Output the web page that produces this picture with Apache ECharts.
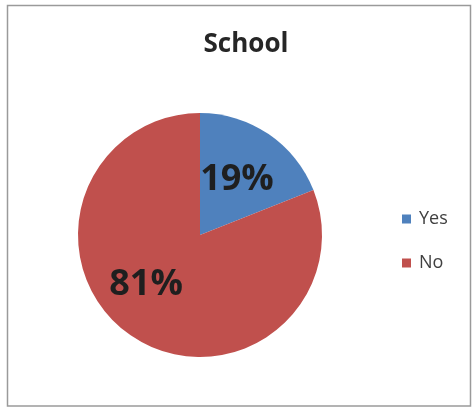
<!DOCTYPE html>
<html>
<head>
<meta charset="utf-8">
<script src="https://cdn.jsdelivr.net/npm/echarts@6/dist/echarts.min.js"></script>
<style>
  html, body { margin: 0; padding: 0; background: #ffffff; }
  #chart { width: 475px; height: 408px; }
</style>
</head>
<body>
<div id="chart"></div>
<script>
// Share of respondents answering Yes / No for "School"
const categories = ['Yes', 'No'];
const shares = [19, 81];
const sliceColors = ['#4F81BD', '#C0504D'];

const chart = echarts.init(document.getElementById('chart'), null, { renderer: 'canvas' });

const pieData = categories.map((name, i) => ({
  name: name,
  value: shares[i],
  itemStyle: { color: sliceColors[i] },
  label: i === 1 ? { offset: [-18, -3] } : { offset: [1, -2] }
}));

chart.setOption({
  backgroundColor: '#ffffff',
  animation: false,
  graphic: [{
    type: 'rect',
    shape: { x: 7.5, y: 5.5, width: 463, height: 400.5 },
    style: { fill: 'none', stroke: '#9a9a9a', lineWidth: 1.5 },
    silent: true
  }],
  title: {
    text: 'School',
    left: 241,
    top: 27,
    textAlign: 'center',
    textStyle: {
      fontFamily: 'Open Sans',
      fontWeight: 'bold',
      fontSize: 26,
      color: '#262626'
    }
  },
  legend: {
    orient: 'vertical',
    left: 397,
    top: 205,
    itemWidth: 9,
    itemHeight: 9,
    itemGap: 26,
    icon: 'rect',
    data: categories,
    textStyle: {
      fontFamily: 'Open Sans',
      fontSize: 18,
      color: '#404040',
      padding: [0, 0, 0, 3]
    }
  },
  series: [{
    type: 'pie',
    center: [200, 235],
    radius: [0, 122],
    startAngle: 90,
    clockwise: true,
    silent: true,
    data: pieData,
    label: {
      show: true,
      position: 'inside',
      formatter: '{c}%',
      fontFamily: 'Open Sans',
      fontWeight: 'bold',
      fontSize: 36,
      color: '#1f1f1f'
    },
    labelLine: { show: false },
    itemStyle: { borderWidth: 0 }
  }]
});
</script>
</body>
</html>
